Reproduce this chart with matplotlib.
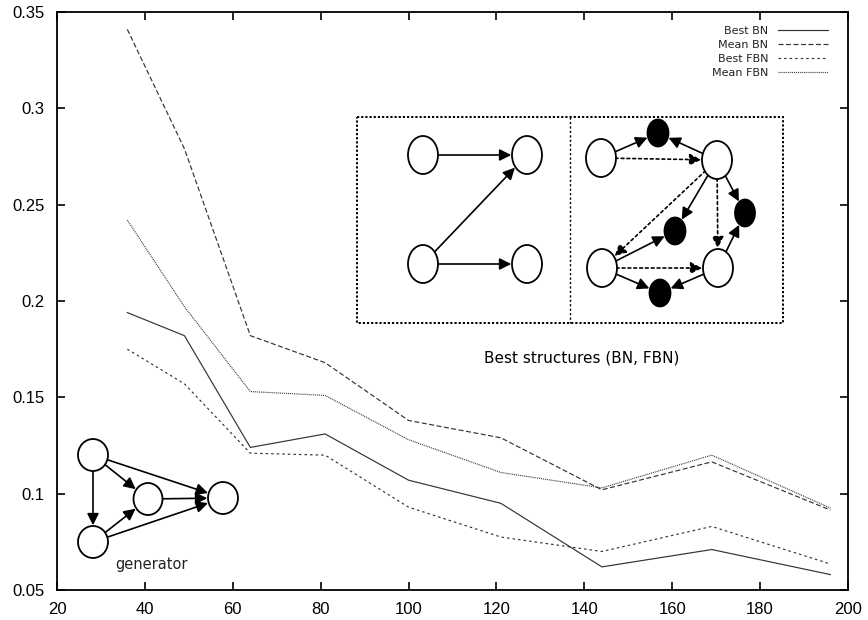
import matplotlib
matplotlib.use("Agg")
import matplotlib.pyplot as plt
from matplotlib.patches import Ellipse, FancyArrowPatch, Rectangle

plt.rcParams['lines.scale_dashes'] = False

# ---- data ----
sizes = [36, 49, 64, 81, 100, 121, 144, 169, 196]
best_bn = [0.194, 0.182, 0.124, 0.131, 0.107, 0.095, 0.062, 0.071, 0.058]
mean_bn = [0.341, 0.279, 0.182, 0.168, 0.138, 0.129, 0.102, 0.1165, 0.0915]
best_fbn = [0.175, 0.157, 0.121, 0.120, 0.093, 0.0775, 0.070, 0.083, 0.0635]
mean_fbn = [0.242, 0.197, 0.153, 0.151, 0.128, 0.111, 0.103, 0.120, 0.0925]
series_labels = ["Best BN", "Mean BN", "Best FBN", "Mean FBN"]
x_ticks = [20, 40, 60, 80, 100, 120, 140, 160, 180, 200]
y_ticks = [0.05, 0.1, 0.15, 0.2, 0.25, 0.3, 0.35]
y_tick_labels = ["0.05", "0.1", "0.15", "0.2", "0.25", "0.3", "0.35"]

W, H = 868, 620
fig = plt.figure(figsize=(W / 100, H / 100), dpi=100)
ax = fig.add_axes([57 / W, 1 - 590 / H, (848 - 57) / W, (590 - 12) / H])

lc = '#333333'
lw = 0.85
l1, = ax.plot(sizes, best_bn, color=lc, lw=lw, ls='-', label=series_labels[0])
l2, = ax.plot(sizes, mean_bn, color=lc, lw=lw, ls=(0, (3.6, 1.8)), label=series_labels[1])
l3, = ax.plot(sizes, best_fbn, color=lc, lw=lw, ls=(0, (1.8, 2.2)), label=series_labels[2])
l4, = ax.plot(sizes, mean_fbn, color=lc, lw=lw, ls=(0, (0.7, 0.7)), label=series_labels[3])

ax.set_xlim(20, 200)
ax.set_ylim(0.05, 0.35)
ax.set_xticks(x_ticks)
ax.set_yticks(y_ticks)
ax.set_yticklabels(y_tick_labels)
ax.tick_params(direction='in', length=6, width=1.2, top=True, right=True,
               labelsize=12, pad=9)
for lab in ax.get_xticklabels() + ax.get_yticklabels():
    lab.set_family('Liberation Sans')
for sp in ax.spines.values():
    sp.set_linewidth(1.3)

leg = ax.legend(handles=[l1, l2, l3, l4], loc='upper right',
                bbox_to_anchor=(828 / W, 1 - 26 / H), bbox_transform=fig.transFigure,
                frameon=False, markerfirst=False, fontsize=8, handlelength=4.5,
                handletextpad=0.9, labelspacing=0.35, borderpad=0, borderaxespad=0)
for t in leg.get_texts():
    t.set_color('#222222')

# ---- overlay for diagrams (pixel coordinates) ----
ov = fig.add_axes([0, 0, 1, 1], zorder=5)
ov.set_xlim(0, W)
ov.set_ylim(H, 0)
ov.axis('off')
ov.patch.set_alpha(0)


def node(x, y, w, h, filled=False):
    e = Ellipse((x, y), w, h, facecolor='black' if filled else 'white',
                edgecolor='black', lw=1.3, zorder=3)
    ov.add_patch(e)
    return e


def edge(a, b, dotted=False):
    arr = FancyArrowPatch(a.center, b.center, patchA=a, patchB=b,
                          arrowstyle='-|>,head_length=0.5,head_width=0.25',
                          mutation_scale=14, lw=1.2, color='black',
                          linestyle=(0, (2.0, 2.2)) if dotted else '-',
                          shrinkA=0, shrinkB=1, zorder=2)
    ov.add_patch(arr)


# generator
gA = node(93, 455, 30, 32)
gB = node(148, 499, 29, 32)
gC = node(223, 498, 30, 32)
gD = node(93, 542, 30, 32)
edge(gA, gD); edge(gA, gB); edge(gD, gB)
edge(gA, gC); edge(gB, gC); edge(gD, gC)
ov.text(152, 564, "generator", ha='center', va='center', fontsize=10.5,
        color='#222222', family='DejaVu Sans')

# best structures box
ov.add_patch(Rectangle((357, 117), 783 - 357, 323 - 117, fill=False, lw=1.4,
                       ls=(0, (1.6, 1.4)), edgecolor='black', zorder=1))
ov.plot([569.5, 569.5], [117, 323], color='black', lw=1.0, ls=(0, (1.6, 1.6)))

# left panel (BN)
bTL = node(423, 155, 30, 38)
bTR = node(527, 155, 30, 38)
bBL = node(423, 264, 30, 38)
bBR = node(527, 264, 30, 38)
edge(bTL, bTR); edge(bBL, bTR); edge(bBL, bBR)

# right panel (FBN)
w1 = node(601, 158, 30, 38)
w2 = node(717, 160, 30, 38)
w3 = node(602, 268, 30, 38)
w4 = node(718, 268, 30, 38)
k1 = node(658, 133, 21, 27, True)
k2 = node(745, 213, 20, 27, True)
k3 = node(675, 231, 21, 27, True)
k4 = node(660, 293, 21, 27, True)
edge(w1, k1); edge(w2, k1); edge(w1, w2, True)
edge(w2, k2); edge(w4, k2); edge(w2, w4, True)
edge(w2, k3); edge(w3, k3); edge(w2, w3, True)
edge(w3, w4, True); edge(w3, k4); edge(w4, k4)

ov.text(582, 358, "Best structures (BN, FBN)", ha='center', va='center',
        fontsize=11, color='black', family='DejaVu Sans')

fig.savefig("out.png", dpi=100)
